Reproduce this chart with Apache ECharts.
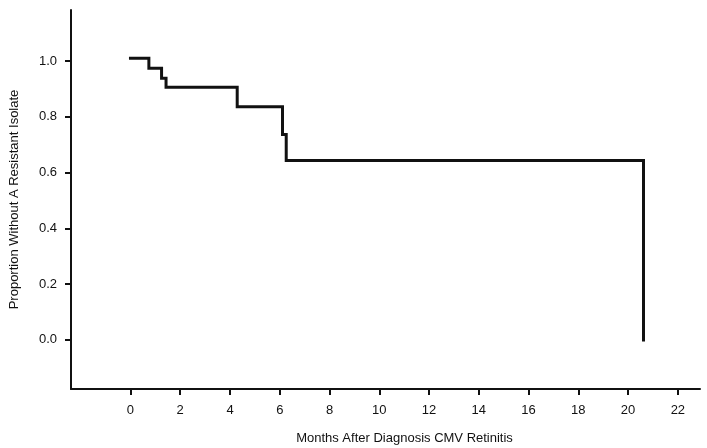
<!DOCTYPE html>
<html>
<head>
<meta charset="utf-8">
<script src="https://cdn.jsdelivr.net/npm/echarts@6/dist/echarts.min.js"></script>
<style>
  html, body { margin: 0; padding: 0; background: #fff; }
  #main { width: 707px; height: 448px; }
</style>
</head>
<body>
<div id="main"></div>
<script>
// Kaplan-Meier steps
const months = [0, 0.74, 1.25, 1.43, 4.29, 6.11, 6.26, 20.62, 20.62]
const proportion = [1.01, 0.974, 0.938, 0.906, 0.836, 0.737, 0.643, 0.643, 0]
const xTicks = [0, 2, 4, 6, 8, 10, 12, 14, 16, 18, 20, 22]
const yTicks = [0, 0.2, 0.4, 0.6, 0.8, 1.0]

const font = '"Liberation Sans", Arial, sans-serif'
const ink = '#111'

const chart = echarts.init(document.getElementById('main'))
chart.setOption({
  animation: false,
  grid: {
    left: 71,
    right: 7,
    top: 10,
    bottom: 59,
    containLabel: false,
    outerBoundsMode: 'none',
  },
  xAxis: {
    type: 'value',
    min: -2.39,
    max: 22.89,
    name: 'Months After Diagnosis CMV Retinitis',
    nameLocation: 'middle',
    nameGap: 43,
    nameTextStyle: { fontFamily: font, fontSize: 13, color: ink, padding: [0, 0, 0, 38] },
    axisLine: { show: true, onZero: false, lineStyle: { color: ink, width: 2 } },
    axisTick: { show: true, customValues: xTicks, length: 6, lineStyle: { color: ink, width: 2 } },
    axisLabel: { customValues: xTicks, margin: 15, fontFamily: font, fontSize: 13, color: ink },
    splitLine: { show: false },
  },
  yAxis: {
    type: 'value',
    min: -0.176,
    max: 1.183,
    name: 'Proportion Without A Resistant Isolate',
    nameLocation: 'middle',
    nameGap: 50,
    nameRotate: 90,
    nameTextStyle: { fontFamily: font, fontSize: 13, color: ink },
    axisLine: { show: true, onZero: false, lineStyle: { color: ink, width: 2 } },
    axisTick: { show: true, customValues: yTicks, length: 6, lineStyle: { color: ink, width: 2 } },
    axisLabel: {
      customValues: yTicks,
      margin: 14,
      fontFamily: font,
      fontSize: 13,
      color: ink,
      formatter: (v) => v.toFixed(1),
    },
    splitLine: { show: false },
  },
  series: [
    {
      type: 'line',
      step: 'end',
      data: months.map((m, i) => [m, proportion[i]]),
      showSymbol: false,
      lineStyle: { color: ink, width: 3, cap: 'square', join: 'miter' },
    },
  ],
})
</script>
</body>
</html>
